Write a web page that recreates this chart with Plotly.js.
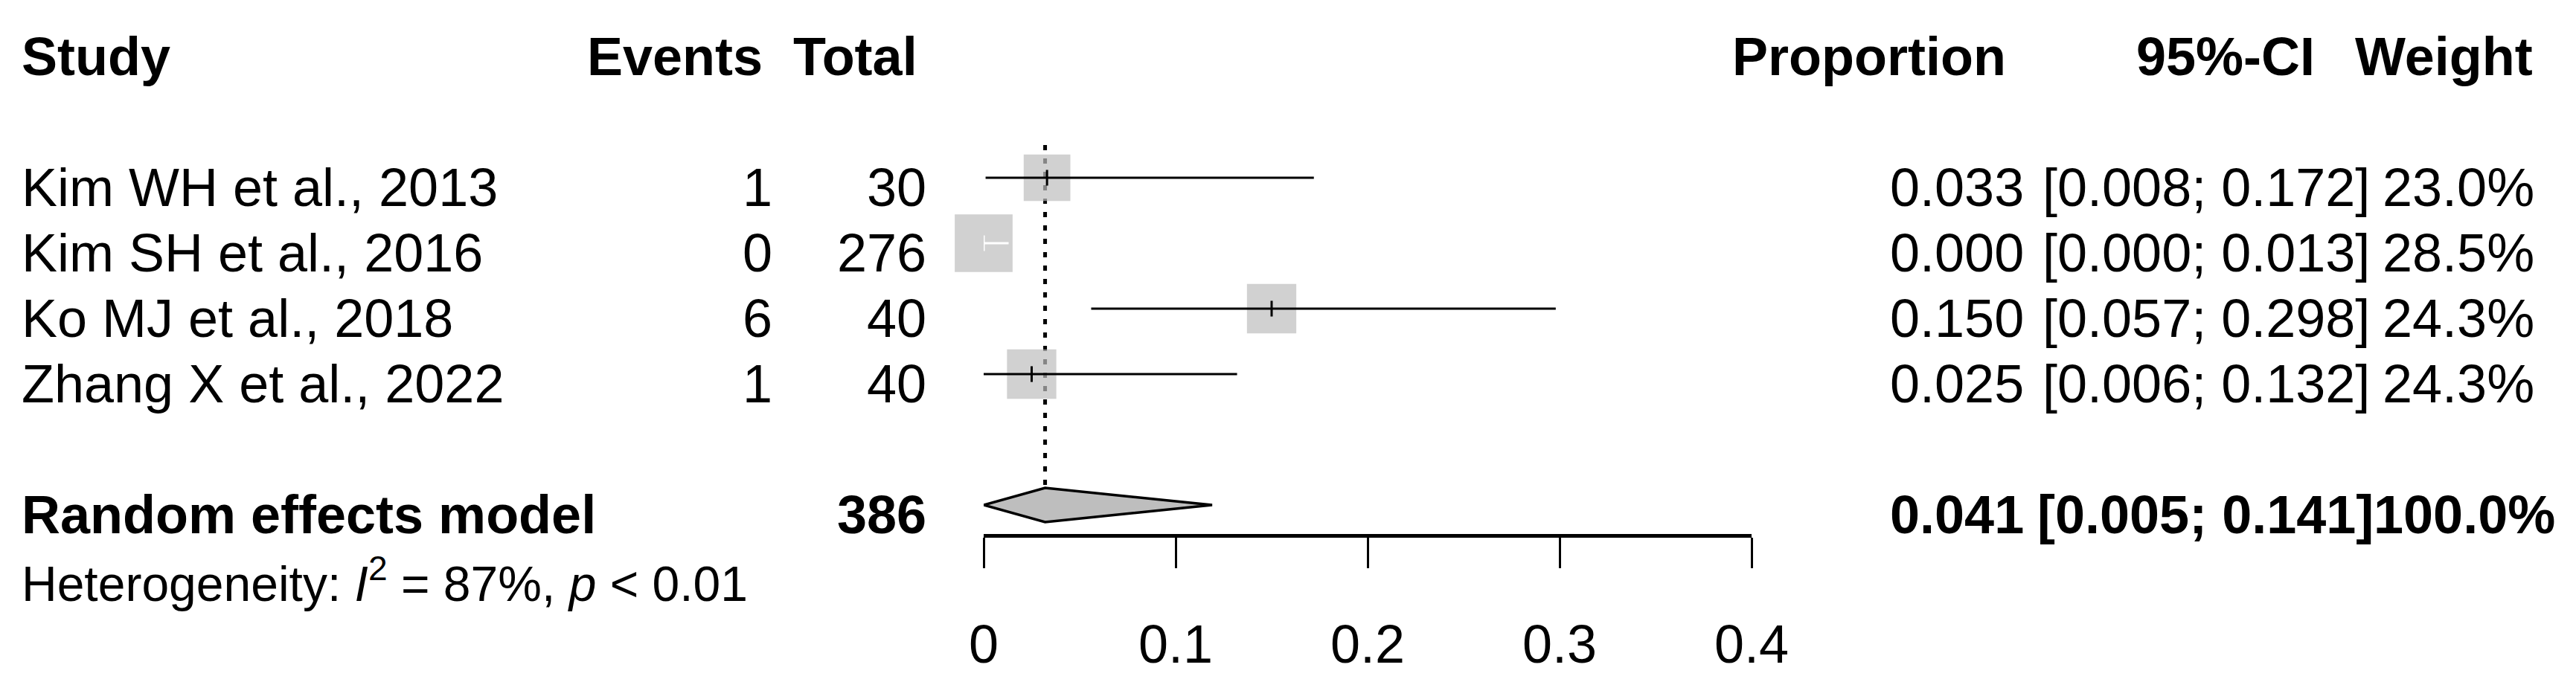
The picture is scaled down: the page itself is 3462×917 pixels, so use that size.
<!DOCTYPE html>
<html>
<head>
<meta charset="utf-8">
<script src="https://cdn.plot.ly/plotly-3.0.1.min.js"></script>
<style>
html,body{margin:0;padding:0;background:#ffffff;}
#chart{width:3462px;height:917px;}
</style>
</head>
<body>
<div id="chart"></div>
<script>
// ---------------- data ----------------
const studies    = ["Kim WH et al., 2013", "Kim SH et al., 2016", "Ko MJ et al., 2018", "Zhang X et al., 2022"];
const events     = [1, 0, 6, 1];
const totals     = [30, 276, 40, 40];
const proportion = [0.033, 0.000, 0.150, 0.025];
const ciLower    = [0.008, 0.000, 0.057, 0.006];
const ciUpper    = [0.172, 0.013, 0.298, 0.132];
const weights    = [23.0, 28.5, 24.3, 24.3];
// lower ends of the CI lines as they are drawn in the picture
const drawnLower = [0.001, 0.000, 0.056, 0.000];

const pooledLabel  = "Random effects model";
const pooledTotal  = 386;
const pooledEst    = 0.041;
const pooledLower  = 0.005;
const pooledUpper  = 0.141;
const pooledWeight = 100.0;
// diamond as drawn in the picture: lower tip, centre, upper tip
const diamondX = [0.000, 0.032, 0.119];

const hetI2 = 87;
const hetP  = "&lt; 0.01";

const tickVals   = [0, 0.1, 0.2, 0.3, 0.4];
const tickLabels = ["0", "0.1", "0.2", "0.3", "0.4"];

const headers = {study: "Study", events: "Events", total: "Total", prop: "Proportion", ci: "95%-CI", weight: "Weight"};

// ---------------- layout constants ----------------
const W = 3462, H = 917;
const FONT = "Liberation Sans, Arial, Helvetica, sans-serif";
const FS = 72, FS_HET = 66;
const xLeftPx = 1322, xRightPx = 2354;      // pixel positions of axis ends
const plotBottomPx = 718;
const rowPx0 = 63, rowStep = 88;             // pixel of row 0, row height
const firstStudyRow = 2, pooledRow = 7, hetRow = 8, headerRow = 0;
const textShift = -13;
const squarePerWeight = 2.728;
const pxPerUnit = (xRightPx - xLeftPx) / (tickVals[tickVals.length - 1] - tickVals[0]);

const colPx = {
  study: 27,
  eventsHead: 1027, events: 1040,
  totalHead: 1235, total: 1247,
  propHead: 2698, prop: 2722,
  ciHead: 3113, ci: 3187, ciPooled: 3192,
  weightHead: 3406, weight: 3408, weightPooled: 3436
};
const px = v => v / W;

const rows = studies.map((s, i) => firstStudyRow + i);
const sizes = weights.map(w => w * squarePerWeight);
const inside = ciLower.map((l, i) => (ciUpper[i] - l) * pxPerUnit < sizes[i]);

// ---------------- traces ----------------
const traces = [];

// dashed reference line at the pooled estimate
traces.push({
  x: [diamondX[1], diamondX[1]], y: [firstStudyRow - 0.5, pooledRow],
  mode: "lines", line: {color: "#000000", width: 5, dash: "7px,11px"},
  hoverinfo: "skip"
});

// squares
traces.push({
  x: proportion, y: rows, mode: "markers",
  marker: {symbol: "square", size: sizes, color: "#BEBEBE", line: {width: 0}},
  cliponaxis: false, hoverinfo: "skip"
});

// CI lines and estimate ticks
function segs(filterFn) {
  const x = [], y = [];
  studies.forEach((s, i) => {
    if (!filterFn(i)) return;
    x.push(drawnLower[i], ciUpper[i], null);
    y.push(rows[i], rows[i], null);
  });
  return {x, y};
}
function ticks(filterFn) {
  const x = [], y = [];
  studies.forEach((s, i) => {
    if (!filterFn(i)) return;
    x.push(proportion[i], proportion[i], null);
    y.push(rows[i] - 0.12, rows[i] + 0.12, null);
  });
  return {x, y};
}
const blackCI = segs(i => !inside[i]);
const whiteCI = segs(i => inside[i]);
const blackTk = ticks(i => !inside[i]);
const whiteTk = ticks(i => inside[i]);
traces.push({x: blackCI.x, y: blackCI.y, mode: "lines", line: {color: "#000000", width: 3}, hoverinfo: "skip"});
traces.push({x: whiteCI.x, y: whiteCI.y, mode: "lines", line: {color: "#FFFFFF", width: 3}, hoverinfo: "skip"});
traces.push({x: blackTk.x, y: blackTk.y, mode: "lines", line: {color: "#000000", width: 3}, hoverinfo: "skip"});
traces.push({x: whiteTk.x, y: whiteTk.y, mode: "lines", line: {color: "#FFFFFF", width: 3}, hoverinfo: "skip"});

// diamond
const dh = 0.26;
traces.push({
  x: [diamondX[0], diamondX[1], diamondX[2], diamondX[1], diamondX[0]],
  y: [pooledRow, pooledRow - dh, pooledRow, pooledRow + dh, pooledRow],
  mode: "lines", fill: "toself", fillcolor: "#BEBEBE",
  line: {color: "#000000", width: 3.5}, hoverinfo: "skip"
});

// ---------------- annotations ----------------
const ann = [];
function addText(text, xPx, row, anchor, bold, size) {
  ann.push({
    text: bold ? "<b>" + text + "</b>" : text,
    xref: "paper", yref: "y", x: px(xPx), y: row,
    xanchor: anchor, yanchor: "middle", yshift: textShift,
    showarrow: false, font: {family: FONT, size: size || FS, color: "#000000"}
  });
}
// headers
addText(headers.study, colPx.study, headerRow, "left", true);
addText(headers.events, colPx.eventsHead, headerRow, "right", true);
addText(headers.total, colPx.totalHead, headerRow, "right", true);
addText(headers.prop, colPx.propHead, headerRow, "right", true);
addText(headers.ci, colPx.ciHead, headerRow, "right", true);
addText(headers.weight, colPx.weightHead, headerRow, "right", true);

// study rows
studies.forEach((s, i) => {
  addText(s, colPx.study, rows[i], "left", false);
  addText(String(events[i]), colPx.events, rows[i], "right", false);
  addText(String(totals[i]), colPx.total, rows[i], "right", false);
  addText(proportion[i].toFixed(3), colPx.prop, rows[i], "right", false);
  addText("[" + ciLower[i].toFixed(3) + "; " + ciUpper[i].toFixed(3) + "]", colPx.ci, rows[i], "right", false);
  addText(weights[i].toFixed(1) + "%", colPx.weight, rows[i], "right", false);
});

// pooled row
addText(pooledLabel, colPx.study, pooledRow, "left", true);
addText(String(pooledTotal), colPx.total, pooledRow, "right", true);
addText(pooledEst.toFixed(3), colPx.prop, pooledRow, "right", true);
addText("[" + pooledLower.toFixed(3) + "; " + pooledUpper.toFixed(3) + "]", colPx.ciPooled, pooledRow, "right", true);
addText(pooledWeight.toFixed(1) + "%", colPx.weightPooled, pooledRow, "right", true);

// heterogeneity (below the axis, so placed in paper coordinates)
const hetPx = rowPx0 + rowStep * hetRow;
ann.push({
  text: "Heterogeneity: <i>I</i><sup>2</sup> = " + hetI2 + "%, <i>p</i> " + hetP,
  xref: "paper", yref: "paper", x: px(colPx.study), y: (plotBottomPx - hetPx) / plotBottomPx,
  xanchor: "left", yanchor: "middle", yshift: textShift,
  showarrow: false, font: {family: FONT, size: FS_HET, color: "#000000"}
});

// ---------------- layout ----------------
const layout = {
  width: W, height: H,
  margin: {l: 0, r: 0, t: 0, b: H - plotBottomPx, pad: 0},
  paper_bgcolor: "#ffffff", plot_bgcolor: "#ffffff",
  showlegend: false, hovermode: false,
  xaxis: {
    domain: [px(xLeftPx), px(xRightPx)],
    range: [tickVals[0], tickVals[tickVals.length - 1]],
    showgrid: false, zeroline: false,
    showline: true, linecolor: "#000000", linewidth: 5,
    ticks: "outside", ticklen: 41, tickwidth: 3, tickcolor: "#000000",
    tickvals: tickVals, ticktext: tickLabels,
    tickfont: {family: FONT, size: FS, color: "#000000"},
    ticklabelstandoff: 41,
    fixedrange: true
  },
  yaxis: {
    range: [(plotBottomPx - rowPx0) / rowStep, -rowPx0 / rowStep],
    visible: false, showgrid: false, zeroline: false, fixedrange: true
  },
  annotations: ann
};

Plotly.newPlot("chart", traces, layout, {staticPlot: true, displayModeBar: false});
</script>
</body>
</html>
